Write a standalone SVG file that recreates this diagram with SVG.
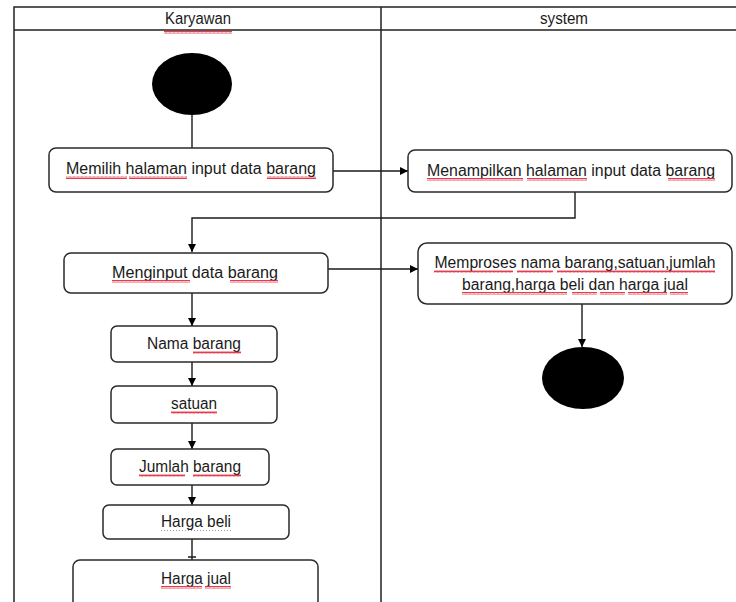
<svg xmlns="http://www.w3.org/2000/svg" width="736" height="602" viewBox="0 0 736 602">
  <style>
    .lane { stroke: #222; stroke-width: 1.5; fill: none; }
    .box { fill: #fff; stroke: #2a2a2a; stroke-width: 1.5; }
    .node-dot { fill: #000; }
    .edge { stroke: #1a1a1a; stroke-width: 1.4; fill: none; }
    text { font-family: "Liberation Sans", Arial, sans-serif; font-size: 16px; fill: #1a1a1a; text-anchor: middle; }
    .sq { fill: url(#squiggle); }
    .dots { stroke: #9a9aa8; stroke-width: 1; stroke-dasharray: 1 2; fill: none; }
  </style>
  <defs>
    <marker id="arrow" viewBox="0 0 10 10" refX="10" refY="5" markerWidth="8" markerHeight="8" markerUnits="userSpaceOnUse" orient="auto">
      <path d="M0,0 L10,5 L0,10 Z" fill="#000"/>
    </marker>
    <!-- red wavy underline -->
    <pattern id="squiggle" patternUnits="userSpaceOnUse" width="4" height="3">
      <path d="M0,2.5 L1,0.5 L2,2.5 L3,0.5 L4,2.5" stroke="#e3263a" stroke-width="0.9" fill="none"/>
    </pattern>
  </defs>
  <rect width="736" height="602" fill="#fff"/>

  <!-- swimlane frame -->
  <g id="lanes">
    <path class="lane" d="M14,602 V7 H736 M14,30 H736 M381,7 V602"/>
    <text x="198" y="24" textLength="66" lengthAdjust="spacingAndGlyphs">Karyawan</text>
    <rect class="sq" x="164" y="31" width="68" height="3"/>
    <text x="564" y="24" textLength="48" lengthAdjust="spacingAndGlyphs">system</text>
  </g>

  <!-- connectors -->
  <g id="connectors">
    <path class="edge" d="M192,115 V148"/>
    <path class="edge" d="M333,171 H408" marker-end="url(#arrow)"/>
    <path class="edge" d="M575,192 V218 H192 V252" marker-end="url(#arrow)"/>
    <path class="edge" d="M328,269 H418" marker-end="url(#arrow)"/>
    <path class="edge" d="M582,304 V347" marker-end="url(#arrow)"/>
    <path class="edge" d="M192,292 V326" marker-end="url(#arrow)"/>
    <path class="edge" d="M192,362 V386" marker-end="url(#arrow)"/>
    <path class="edge" d="M192,423 V449" marker-end="url(#arrow)"/>
    <path class="edge" d="M192,485 V505" marker-end="url(#arrow)"/>
    <path class="edge" d="M192,539 V560 M188,557 H196"/>
  </g>

  <g id="start">
    <ellipse class="node-dot" cx="192" cy="84" rx="40" ry="31"/>
  </g>

  <g id="pilih-halaman">
    <rect class="box" x="49" y="148" width="284" height="44" rx="7"/>
    <text x="191" y="174" textLength="250" lengthAdjust="spacingAndGlyphs">Memilih halaman input data barang</text>
    <rect class="sq" x="66" y="176" width="61" height="3"/>
    <rect class="sq" x="129" y="176" width="58" height="3"/>
    <rect class="sq" x="267" y="176" width="49" height="3"/>
  </g>

  <g id="tampil-halaman">
    <rect class="box" x="408" y="150" width="324" height="42" rx="7"/>
    <text x="571" y="176" textLength="288" lengthAdjust="spacingAndGlyphs">Menampilkan halaman input data barang</text>
    <rect class="sq" x="427" y="178" width="96" height="3"/>
    <rect class="sq" x="527" y="178" width="60" height="3"/>
    <rect class="sq" x="668" y="178" width="47" height="3"/>
  </g>

  <g id="input-data">
    <rect class="box" x="64" y="253" width="264" height="40" rx="7"/>
    <text x="195" y="278" textLength="166" lengthAdjust="spacingAndGlyphs">Menginput data barang</text>
    <rect class="sq" x="112" y="280" width="78" height="3"/>
    <rect class="sq" x="230" y="280" width="48" height="3"/>
  </g>

  <g id="proses-data">
    <rect class="box" x="418" y="243" width="314" height="61" rx="9"/>
    <text x="575" y="268" textLength="281" lengthAdjust="spacingAndGlyphs">Memproses nama barang,satuan,jumlah</text>
    <rect class="sq" x="434" y="270" width="79" height="3"/>
    <rect class="sq" x="517" y="270" width="36" height="3"/>
    <rect class="sq" x="557" y="270" width="158" height="3"/>
    <text x="575" y="290" textLength="226" lengthAdjust="spacingAndGlyphs">barang,harga beli dan harga jual</text>
    <rect class="sq" x="462" y="292" width="105" height="3"/>
    <rect class="sq" x="572" y="292" width="25" height="3"/>
    <rect class="sq" x="600" y="292" width="25" height="3"/>
    <rect class="sq" x="628" y="292" width="39" height="3"/>
    <rect class="sq" x="670" y="292" width="18" height="3"/>
  </g>

  <g id="end">
    <ellipse class="node-dot" cx="583" cy="378" rx="41" ry="31"/>
  </g>

  <g id="nama-barang">
    <rect class="box" x="111" y="326" width="166" height="36" rx="6"/>
    <text x="194" y="349" textLength="94" lengthAdjust="spacingAndGlyphs">Nama barang</text>
    <rect class="sq" x="193" y="351" width="48" height="3"/>
  </g>

  <g id="satuan">
    <rect class="box" x="111" y="386" width="166" height="37" rx="6"/>
    <text x="194" y="409" textLength="46" lengthAdjust="spacingAndGlyphs">satuan</text>
    <rect class="sq" x="171" y="411" width="46" height="3"/>
  </g>

  <g id="jumlah-barang">
    <rect class="box" x="111" y="449" width="158" height="36" rx="6"/>
    <text x="190" y="472" textLength="102" lengthAdjust="spacingAndGlyphs">Jumlah barang</text>
    <rect class="sq" x="139" y="474" width="46" height="3"/>
    <rect class="sq" x="193" y="474" width="48" height="3"/>
  </g>

  <g id="harga-beli">
    <rect class="box" x="103" y="505" width="186" height="34" rx="6"/>
    <text x="196" y="527" textLength="70" lengthAdjust="spacingAndGlyphs">Harga beli</text>
    <path class="dots" d="M161,530.5 H231"/>
  </g>

  <g id="harga-jual">
    <rect class="box" x="73" y="560" width="245" height="50" rx="7"/>
    <text x="196" y="584" textLength="70" lengthAdjust="spacingAndGlyphs">Harga jual</text>
    <rect class="sq" x="161" y="586" width="41" height="3"/>
    <rect class="sq" x="205" y="586" width="26" height="3"/>
  </g>
</svg>
